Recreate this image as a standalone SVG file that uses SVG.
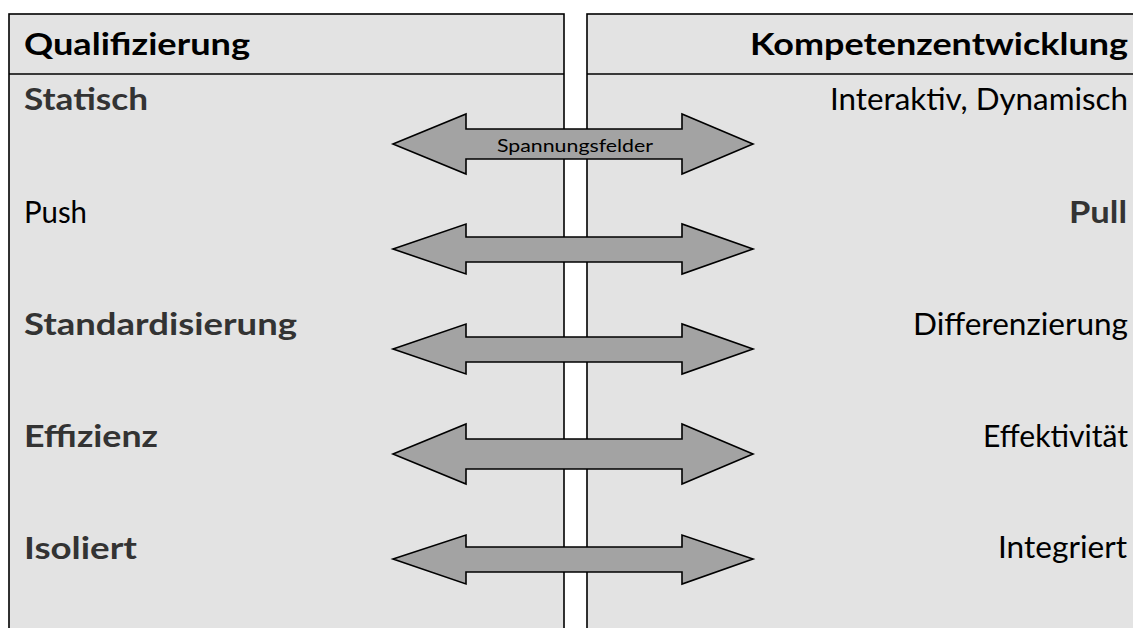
<svg xmlns="http://www.w3.org/2000/svg" width="1133" height="628" viewBox="0 0 1133 628">
  <style>
    .panel { fill: #e3e3e3; stroke: #000; stroke-width: 1.6; }
    .rule { stroke: #000; stroke-width: 1.6; }
    .arrow { fill: #a3a3a3; stroke: #000; stroke-width: 1.6; stroke-linejoin: miter; }
    text { font-family: Lato, "Open Sans", "Liberation Sans", sans-serif; font-size: 30px; }
    .head { font-weight: bold; fill: #000; }
    .key { font-weight: bold; fill: #333; }
    .plain { fill: #000; }
    .end { text-anchor: end; }
    .small { font-size: 18px; fill: #000; text-anchor: middle; }
  </style>
  <rect width="1133" height="628" fill="#fff"/>

  <!-- two columns -->
  <g id="panels">
    <rect class="panel" x="9" y="14" width="555" height="640"/>
    <rect class="panel" x="587" y="14" width="570" height="640"/>
    <line class="rule" x1="9" y1="74" x2="564" y2="74"/>
    <line class="rule" x1="587" y1="74" x2="1133" y2="74"/>
  </g>

  <!-- double-headed arrows between the columns -->
  <g id="connectors">
    <polygon class="arrow" points="393,144 466,114 466,129 682,129 682,114 753,144 682,174 682,159 466,159 466,174"/>
    <polygon class="arrow" points="393,249 466,224 466,237 682,237 682,224 753,249 682,274 682,262 466,262 466,274"/>
    <polygon class="arrow" points="393,349 466,324 466,337 682,337 682,324 753,349 682,374 682,362 466,362 466,374"/>
    <polygon class="arrow" points="393,454 466,424 466,439 682,439 682,424 753,454 682,484 682,469 466,469 466,484"/>
    <polygon class="arrow" points="393,559 466,535 466,547 682,547 682,535 753,559 682,584 682,572 466,572 466,584"/>
    <text class="small" x="575" y="152" textLength="156" lengthAdjust="spacingAndGlyphs">Spannungsfelder</text>
  </g>

  <g id="header-left"><text class="head" x="24" y="55" textLength="226" lengthAdjust="spacingAndGlyphs">Qualifizierung</text></g>
  <g id="header-right"><text class="head end" x="1128" y="55" textLength="378" lengthAdjust="spacingAndGlyphs">Kompetenzentwicklung</text></g>

  <g id="left-1"><text class="key" x="24" y="110" textLength="124" lengthAdjust="spacingAndGlyphs">Statisch</text></g>
  <g id="left-2"><text class="plain" x="24" y="223" textLength="63" lengthAdjust="spacingAndGlyphs">Push</text></g>
  <g id="left-3"><text class="key" x="24" y="335" textLength="273" lengthAdjust="spacingAndGlyphs">Standardisierung</text></g>
  <g id="left-4"><text class="key" x="24" y="447" textLength="134" lengthAdjust="spacingAndGlyphs">Effizienz</text></g>
  <g id="left-5"><text class="key" x="24" y="559" textLength="113" lengthAdjust="spacingAndGlyphs">Isoliert</text></g>

  <g id="right-1"><text class="plain end" x="1128" y="110" textLength="298" lengthAdjust="spacingAndGlyphs">Interaktiv, Dynamisch</text></g>
  <g id="right-2"><text class="key end" x="1127" y="223" textLength="58" lengthAdjust="spacingAndGlyphs">Pull</text></g>
  <g id="right-3"><text class="plain end" x="1128" y="335" textLength="215" lengthAdjust="spacingAndGlyphs">Differenzierung</text></g>
  <g id="right-4"><text class="plain end" x="1128" y="447" textLength="145" lengthAdjust="spacingAndGlyphs">Effektivität</text></g>
  <g id="right-5"><text class="plain end" x="1127" y="558" textLength="129" lengthAdjust="spacingAndGlyphs">Integriert</text></g>
</svg>
